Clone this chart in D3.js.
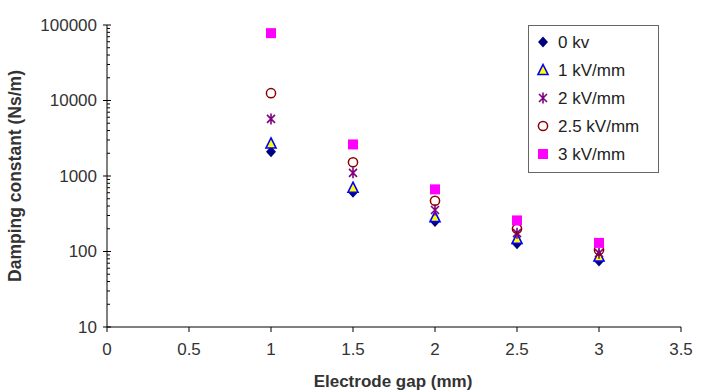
<!DOCTYPE html>
<html><head><meta charset="utf-8">
<script src="https://cdn.jsdelivr.net/npm/d3@7"></script>
<style>body{margin:0;background:#fff;} text{font-family:"Liberation Sans",Arial,sans-serif;}</style>
</head><body><svg id="c" width="702" height="390"></svg>
<script>
const gaps = [1, 1.5, 2, 2.5, 3];
const seriesNames = ["0 kv", "1 kV/mm", "2 kV/mm", "2.5 kV/mm", "3 kV/mm"];
const v0 = [2100, 610, 250, 127, 75];
const v1 = [2700, 700, 285, 147, 86];
const v2 = [5700, 1100, 355, 175, 95];
const v25 = [12500, 1520, 470, 200, 105];
const v3 = [78000, 2620, 665, 258, 130];
const yTicks = [10, 100, 1000, 10000, 100000];
const xTicks = [0, 0.5, 1, 1.5, 2, 2.5, 3, 3.5];

const svg = d3.select("#c");
const x = d3.scaleLinear().domain([0, 3.5]).range([107, 681]);
const y = d3.scaleLog().domain([10, 100000]).range([327, 25]);

// y axis
const ya = svg.append("g").attr("transform", "translate(107,0)");
ya.append("line").attr("y1", y(10)).attr("y2", y(100000)).attr("stroke", "#000");
const minor = [];
for (let e = 1; e < 5; e++) for (let m = 2; m <= 9; m++) minor.push(m * Math.pow(10, e));
ya.selectAll(".mn").data(minor).join("line").attr("x1", 0).attr("x2", 3)
  .attr("y1", d => y(d)).attr("y2", d => y(d)).attr("stroke", "#000");
ya.selectAll(".mj").data(yTicks).join("line").attr("x1", -4).attr("x2", 4)
  .attr("y1", d => y(d)).attr("y2", d => y(d)).attr("stroke", "#000");
ya.selectAll(".lb").data(yTicks).join("text").attr("x", -10).attr("y", d => y(d))
  .attr("dy", "0.35em").attr("text-anchor", "end").attr("font-size", 17).attr("fill", "#333")
  .text(d => d3.format("d")(d));

// x axis
const xa = svg.append("g").attr("transform", "translate(0,327)");
xa.append("line").attr("x1", x(0)).attr("x2", x(3.5)).attr("stroke", "#000");
xa.selectAll(".t").data(xTicks).join("line").attr("x1", d => x(d)).attr("x2", d => x(d))
  .attr("y1", 0).attr("y2", 5).attr("stroke", "#000");
xa.selectAll(".l").data(xTicks).join("text").attr("x", d => x(d)).attr("y", 22)
  .attr("dy", "0.35em").attr("text-anchor", "middle").attr("font-size", 17).attr("fill", "#333")
  .text(d => d);

svg.append("text").attr("x", 393).attr("y", 387).attr("text-anchor", "middle")
  .attr("font-size", 17).attr("font-weight", "bold").attr("fill", "#333").text("Electrode gap (mm)");
svg.append("text").attr("transform", "translate(21,176) rotate(-90)").attr("text-anchor", "middle")
  .attr("font-size", 17.5).attr("font-weight", "bold").attr("fill", "#333").text("Damping constant (Ns/m)");

// marker painters
function diamond(g) { g.append("path").attr("d", "M0,-5.5L5,0L0,5.5L-5,0Z").attr("fill", "#000080"); }
function tri(g) { g.append("path").attr("d", "M0,-5.5L5,4.5L-5,4.5Z").attr("fill", "#ffff00").attr("stroke", "#0000ff").attr("stroke-width", 1.6); }
function star(g) {
  g.append("path").attr("d", "M-4,-4L4,4M-4,4L4,-4M0,-5.5L0,5.5").attr("stroke", "#800080").attr("stroke-width", 1.6).attr("fill", "none");
}
function circ(g) { g.append("circle").attr("r", 4.6).attr("fill", "none").attr("stroke", "#8b0000").attr("stroke-width", 1.5); }
function sq(g) { g.append("rect").attr("x", -5).attr("y", -5).attr("width", 10).attr("height", 10).attr("fill", "#ff00ff"); }

const series = [
  {name: seriesNames[0], vals: v0, m: diamond},
  {name: seriesNames[1], vals: v1, m: tri},
  {name: seriesNames[2], vals: v2, m: star},
  {name: seriesNames[3], vals: v25, m: circ},
  {name: seriesNames[4], vals: v3, m: sq}
];
series.forEach(s => {
  s.vals.forEach((v, i) => {
    const g = svg.append("g").attr("transform", `translate(${x(gaps[i])},${y(v)})`);
    s.m(g);
  });
});

// legend
const lg = svg.append("g");
lg.append("rect").attr("x", 528.5).attr("y", 25.5).attr("width", 130).attr("height", 147)
  .attr("fill", "#fff").attr("stroke", "#666");
series.forEach((s, i) => {
  const yy = 42 + i * 28;
  s.m(lg.append("g").attr("transform", `translate(543,${yy})`));
  lg.append("text").attr("x", 558).attr("y", yy).attr("dy", "0.35em").attr("font-size", 17)
    .attr("fill", "#222").text(s.name);
});
</script></body></html>
